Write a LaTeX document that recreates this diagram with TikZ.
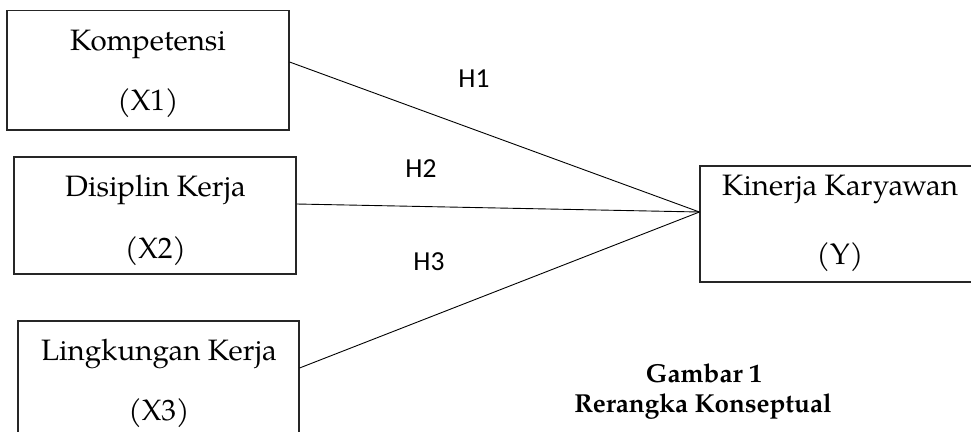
\documentclass[tikz,border=0pt]{standalone}
\usepackage{fontspec}
\setmainfont{TeX Gyre Pagella}
\newfontfamily\labelfont{Carlito}
\begin{document}
\begin{tikzpicture}[x=1pt,y=-1pt,
  box/.style={draw=black!85, line width=1.1pt, rectangle, inner sep=0pt},
  boxtext/.style={anchor=base, font=\fontsize{29.5}{35}\selectfont, inner sep=0pt},
  hlabel/.style={anchor=base, font=\labelfont\fontsize{27.5}{33}\selectfont, inner sep=0pt},
  link/.style={draw=black, line width=0.9pt},
  captext/.style={anchor=base, font=\bfseries\fontsize{26}{30}\selectfont, inner sep=0pt}]
\useasboundingbox (0,0) rectangle (971,431);
% boxes
\node[box, minimum width=282pt, minimum height=119.5pt] (K) at (148,70.25) {};
\node[box, minimum width=282pt, minimum height=117pt] (D) at (155,215.5) {};
\node[box, minimum width=281pt, minimum height=119pt] (L) at (158.5,380.5) {};
\node[box, minimum width=280pt, minimum height=116pt] (Y) at (840,224) {};
% box texts
\node[boxtext] (k1) at (148,50) {Kompetensi};
\node[boxtext] (k2) at (148,110) {(X1)};
\node[boxtext] (d1) at (155.5,196) {Disiplin Kerja};
\node[boxtext] (d2) at (155.5,258) {(X2)};
\node[boxtext] (l1) at (159,360) {Lingkungan Kerja};
\node[boxtext] (l2) at (159,420) {(X3)};
\node[boxtext] (y1) at (840,195) {Kinerja Karyawan};
\node[boxtext] (y2) at (840,264) {(Y)};
% connectors
\draw[link] ([yshift=8.25pt]K.east) -- ([yshift=12pt]Y.west);
\draw[link] ([yshift=11.5pt]D.east) -- ([yshift=12pt]Y.west);
\draw[link] ([yshift=12.5pt]L.east) -- ([yshift=12pt]Y.west);
% labels
\node[hlabel] (h1) at (474,87) {H1};
\node[hlabel] (h2) at (421,177) {H2};
\node[hlabel] (h3) at (429,270) {H3};
% caption
\node[captext] (c1) at (704,382) {Gambar 1};
\node[captext] (c2) at (703,412) {Rerangka Konseptual};
\end{tikzpicture}
\end{document}
